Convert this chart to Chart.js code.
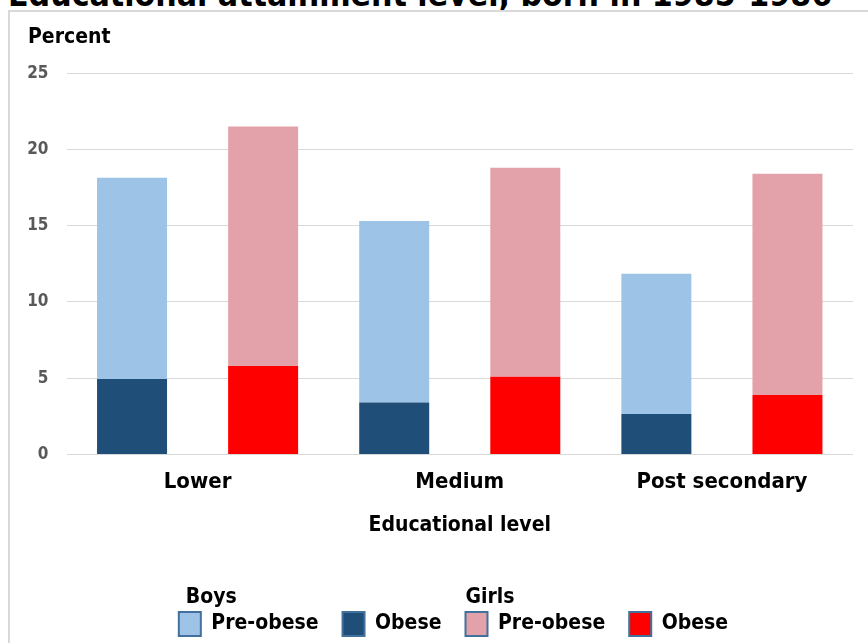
<!DOCTYPE html>
<html>
<head>
<meta charset="utf-8">
<script src="https://cdn.jsdelivr.net/npm/chart.js@4/dist/chart.umd.min.js"></script>
<style>
  body { margin: 0; background: #fff; overflow: hidden; }
  #frame { position: absolute; left: 8px; top: 10px; width: 900px; height: 700px; border: 2px solid #d9d9d9; }
  #mainTitle { position: absolute; left: 8px; top: -22px; font: bold 33.5px 'DejaVu Sans Condensed', 'DejaVu Sans', sans-serif; line-height: 34px; white-space: nowrap; color: #000; }
  #wrap { position: absolute; left: 0; top: 0; width: 868px; height: 643px; }
</style>
</head>
<body>
<div id="mainTitle">Educational attainment level, born in 1985-1986</div>
<div id="frame"></div>
<div id="wrap"><canvas id="chart"></canvas></div>
<script>
// data (percent)
const categories = ['Lower', 'Medium', 'Post secondary'];
const boysObese = [4.95, 3.4, 2.65];
const boysPreObese = [13.2, 11.9, 9.2];
const girlsObese = [5.8, 5.1, 3.9];
const girlsPreObese = [15.7, 13.7, 14.5];
const yTicks = [0, 5, 10, 15, 20, 25];

const FONT = "'DejaVu Sans Condensed', 'DejaVu Sans', sans-serif";
const legendRank = [1, 0, 3, 2]; // show pre-obese before obese in each group

// nudges the legend a bit to the right, like the original
const legendShift = {
    id: 'legendShift',
    afterLayout(chart) {
        chart.legend.left += 13;
        chart.legend.right += 13;
    }
};

// draws the "Boys" / "Girls" headings over the legend groups
const groupHeaders = {
    id: 'groupHeaders',
    afterDraw(chart) {
        const boxes = chart.legend.legendHitBoxes;
        if (!boxes || boxes.length < 4) return;
        const ctx = chart.ctx;
        ctx.save();
        ctx.font = 'bold 21px ' + FONT;
        ctx.fillStyle = '#000';
        ctx.textBaseline = 'alphabetic';
        ctx.textAlign = 'left';
        ctx.fillText('Boys', boxes[0].left + 7, boxes[0].top - 9);
        ctx.fillText('Girls', boxes[2].left, boxes[2].top - 9);
        ctx.restore();
    }
};

document.addEventListener('DOMContentLoaded', () => {
    const ctx = document.getElementById('chart').getContext('2d');
    new Chart(ctx, {
        type: 'bar',
        data: {
            labels: categories,
            datasets: [
                { label: 'Obese', data: boysObese, backgroundColor: '#1F4E79', stack: 'boys' },
                { label: 'Pre-obese', data: boysPreObese, backgroundColor: '#9DC3E6', stack: 'boys' },
                { label: 'Obese', data: girlsObese, backgroundColor: '#FF0000', stack: 'girls' },
                { label: 'Pre-obese', data: girlsPreObese, backgroundColor: '#E3A2A9', stack: 'girls' }
            ]
        },
        options: {
            responsive: true,
            maintainAspectRatio: false,
            animation: false,
            layout: { padding: { left: 28, right: 15, top: 0, bottom: -3 } },
            datasets: { bar: { barPercentage: 0.534, categoryPercentage: 1, borderWidth: 0 } },
            scales: {
                x: {
                    stacked: true,
                    grid: { display: false },
                    border: { display: false },
                    ticks: { color: '#000', padding: 7, font: { family: FONT, size: 22, weight: 'bold' } },
                    title: {
                        display: true, text: 'Educational level', color: '#000',
                        padding: { top: 10, bottom: 10 },
                        font: { family: FONT, size: 21, weight: 'bold' }
                    }
                },
                y: {
                    stacked: true,
                    min: 0, max: 25,
                    afterBuildTicks(scale) { scale.ticks = yTicks.map(v => ({ value: v })); },
                    afterFit(scale) { scale.width = 38.5; },
                    grid: { color: '#d9d9d9', drawTicks: false },
                    border: { display: false },
                    ticks: { color: '#595959', padding: 18, font: { family: FONT, size: 17, weight: 'bold' } }
                }
            },
            plugins: {
                title: {
                    display: true, text: 'Percent', align: 'start', color: '#000',
                    padding: { top: 25, bottom: 23 },
                    font: { family: FONT, size: 21, weight: 'bold' }
                },
                legend: {
                    position: 'bottom',
                    title: { display: true, text: ' ', padding: { top: 0, bottom: 16 }, font: { size: 20 } },
                    labels: {
                        color: '#000',
                        boxWidth: 22, boxHeight: 24, padding: 24,
                        font: { family: FONT, size: 21, weight: 'bold' },
                        sort: (a, b) => legendRank[a.datasetIndex] - legendRank[b.datasetIndex],
                        generateLabels(chart) {
                            const items = Chart.defaults.plugins.legend.labels.generateLabels(chart);
                            return items.map(it => Object.assign(it, { strokeStyle: '#41719C', lineWidth: 2 }));
                        }
                    }
                },
                tooltip: { enabled: false }
            }
        },
        plugins: [legendShift, groupHeaders]
    });
});
</script>
</body>
</html>
